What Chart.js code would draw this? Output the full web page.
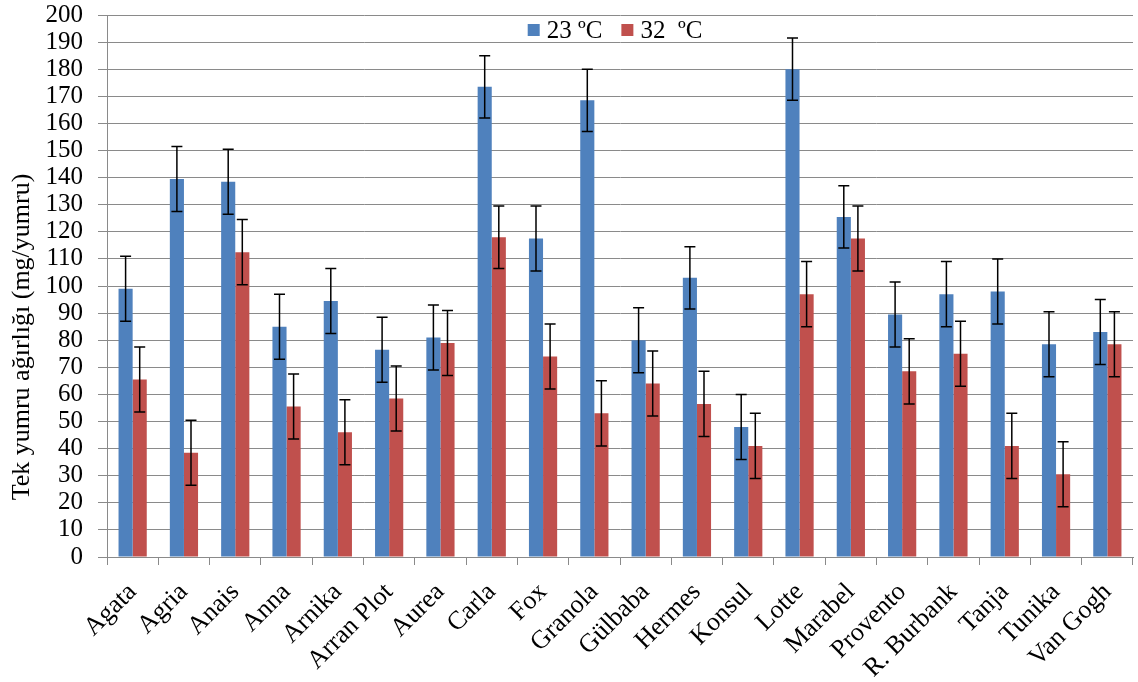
<!DOCTYPE html>
<html>
<head>
<meta charset="utf-8">
<script src="https://cdn.jsdelivr.net/npm/chart.js@4/dist/chart.umd.min.js"></script>
<style>
  html, body { margin: 0; padding: 0; background: #ffffff; }
  #wrap { width: 1138px; height: 682px; }
</style>
</head>
<body>
<div id="wrap"><canvas id="c" width="1138" height="682"></canvas></div>
<script>
// Potato cultivars
const categories = ['Agata', 'Agria', 'Anais', 'Anna', 'Arnika', 'Arran Plot', 'Aurea', 'Carla', 'Fox', 'Granola',
  'Gülbaba', 'Hermes', 'Konsul', 'Lotte', 'Marabel', 'Provento', 'R. Burbank', 'Tanja', 'Tunika', 'Van Gogh'];

// Mean single tuber weight (mg/tuber) at 23 °C and 32 °C
const values23 = [99, 139.5, 138.5, 85, 94.5, 76.5, 81, 173.5, 117.5, 168.5, 80, 103, 48, 180, 125.5, 89.5, 97, 98, 78.5, 83];
const values32 = [65.5, 38.5, 112.5, 55.5, 46, 58.5, 79, 118, 74, 53, 64, 56.5, 41, 97, 117.5, 68.5, 75, 41, 30.5, 78.5];

// Error bar half-lengths
const err23 = [12, 12, 12, 12, 12, 12, 12, 11.5, 12, 11.5, 12, 11.5, 12, 11.5, 11.5, 12, 12, 12, 12, 12];
const err32 = [12, 12, 12, 12, 12, 12, 12, 11.5, 12, 12, 12, 12, 12, 12, 12, 12, 12, 12, 12, 12];

const seriesLabels = ['23 ºC', '32  ºC'];
const yTicks = [0, 10, 20, 30, 40, 50, 60, 70, 80, 90, 100, 110, 120, 130, 140, 150, 160, 170, 180, 190, 200];

const yTitle = 'Tek yumru ağırlığı (mg/yumru)';
const FONT = '"Liberation Serif", "Times New Roman", serif';

const errorBars = {
  id: 'errorBars',
  afterDatasetsDraw(chart) {
    const ctx = chart.ctx;
    const y = chart.scales.y;
    ctx.save();
    ctx.strokeStyle = '#000000';
    ctx.lineWidth = 1.5;
    chart.data.datasets.forEach((ds, di) => {
      const meta = chart.getDatasetMeta(di);
      meta.data.forEach((bar, i) => {
        const v = ds.data[i];
        const e = ds.errors[i];
        const top = y.getPixelForValue(v + e);
        const bot = y.getPixelForValue(v - e);
        const x = bar.x;
        ctx.beginPath();
        ctx.moveTo(x, top); ctx.lineTo(x, bot);
        ctx.moveTo(x - 5.5, top); ctx.lineTo(x + 5.5, top);
        ctx.moveTo(x - 5.5, bot); ctx.lineTo(x + 5.5, bot);
        ctx.stroke();
      });
    });
    ctx.restore();
  }
};

const decorations = {
  id: 'decorations',
  afterDraw(chart) {
    const ctx = chart.ctx;
    const area = chart.chartArea;
    ctx.save();
    // rotated y-axis title
    ctx.fillStyle = '#000000';
    ctx.font = '26px ' + FONT;
    ctx.textAlign = 'center';
    ctx.textBaseline = 'middle';
    ctx.translate(22, 337);
    ctx.rotate(-Math.PI / 2);
    ctx.fillText(yTitle, 0, 0);
    ctx.restore();

    // legend inside the plot, top centre
    ctx.save();
    ctx.font = '25px ' + FONT;
    ctx.textBaseline = 'middle';
    ctx.textAlign = 'left';
    const box = 12, gapBox = 7, gapItem = 19;
    const widths = seriesLabels.map(t => ctx.measureText(t).width);
    const total = widths.reduce((a, w) => a + box + gapBox + w, 0) + gapItem * (seriesLabels.length - 1);
    let x = (area.left + area.right) / 2 - total / 2 - 5;
    const cy = 30;
    seriesLabels.forEach((t, i) => {
      ctx.fillStyle = chart.data.datasets[i].backgroundColor;
      ctx.fillRect(x, cy - box / 2, box, box);
      x += box + gapBox;
      ctx.fillStyle = '#000000';
      ctx.fillText(t, x, cy + 1);
      x += widths[i] + gapItem;
    });
    ctx.restore();
  }
};

new Chart(document.getElementById('c'), {
  type: 'bar',
  data: {
    labels: categories,
    datasets: [
      { label: seriesLabels[0], data: values23, errors: err23, backgroundColor: '#4F81BD',
        categoryPercentage: 0.55, barPercentage: 1.0 },
      { label: seriesLabels[1], data: values32, errors: err32, backgroundColor: '#C0504D',
        categoryPercentage: 0.55, barPercentage: 1.0 }
    ]
  },
  options: {
    responsive: false,
    animation: false,
    devicePixelRatio: 1,
    layout: { padding: { top: 15, right: 5, bottom: 0, left: 0 } },
    plugins: {
      legend: { display: false },
      tooltip: { enabled: false }
    },
    scales: {
      x: {
        grid: { display: true, drawOnChartArea: false, drawTicks: true, tickLength: 8, color: '#8a8a8a', offset: true },
        border: { display: true, color: '#8a8a8a', width: 1 },
        ticks: { color: '#000000', font: { family: FONT, size: 26 }, maxRotation: 45, minRotation: 45, autoSkip: false, padding: 12 },
        afterFit(scale) { scale.height = 125; scale.paddingLeft = 0; scale.paddingRight = 0; }
      },
      y: {
        min: 0, max: 200,
        afterBuildTicks(scale) { scale.ticks = yTicks.map(v => ({ value: v })); },
        grid: { color: '#8a8a8a', lineWidth: 1, tickLength: 9 },
        border: { display: true, color: '#8a8a8a', width: 1 },
        ticks: { color: '#000000', font: { family: FONT, size: 25 }, padding: 15, autoSkip: false },
        afterFit(scale) { scale.width = 107; scale.paddingTop = 0; scale.paddingBottom = 0; }
      }
    }
  },
  plugins: [errorBars, decorations]
});
</script>
</body>
</html>
